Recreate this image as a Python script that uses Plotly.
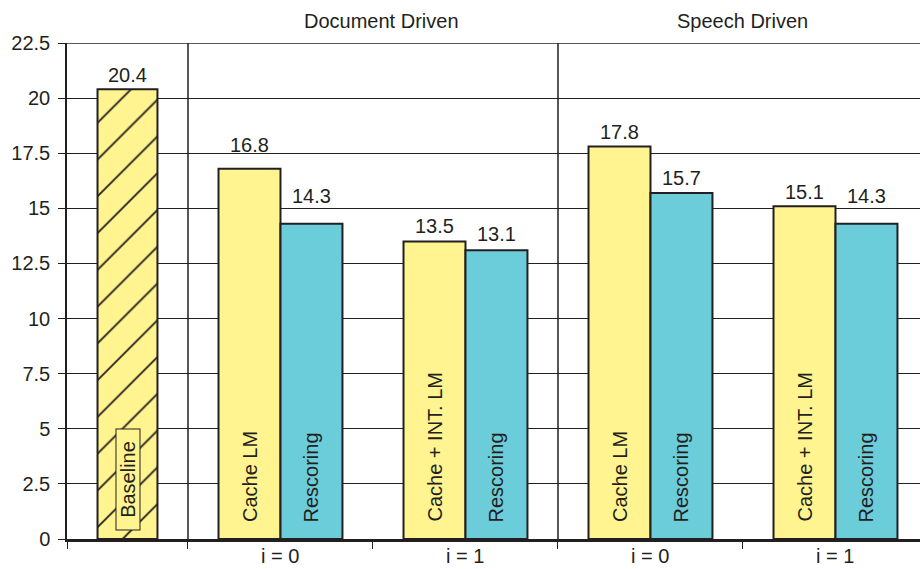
import plotly.graph_objects as go

# ---- data -------------------------------------------------------------
section_titles = ["Document Driven", "Speech Driven"]
group_labels = ["i = 0", "i = 1", "i = 0", "i = 1"]
cache_names = ["Cache LM", "Cache + INT. LM", "Cache LM", "Cache + INT. LM"]
rescore_name = "Rescoring"
baseline_name = "Baseline"
baseline_value = 20.4
cache_values = [16.8, 13.5, 17.8, 15.1]
rescoring_values = [14.3, 13.1, 15.7, 14.3]
y_ticks = [0, 2.5, 5, 7.5, 10, 12.5, 15, 17.5, 20, 22.5]
y_tick_text = ["0", "2.5", "5", "7.5", "10", "12.5", "15", "17.5", "20", "22.5"]

# ---- layout helpers ---------------------------------------------------
INK = "#231f20"
YELLOW = "#fff48f"
BLUE = "#6bccda"
FONT = "Liberation Sans, Arial, Helvetica, sans-serif"
FS = 20

base_w = 0.654            # width of the baseline slot (one group slot = 1)
bar_w = 0.335
baseline_bar_w = 0.324
group_x = [base_w + 0.5 + i for i in range(len(group_labels))]
baseline_x = base_w / 2
boundaries = [0.0] + [base_w + i for i in range(len(group_labels))]
x_max = 853 / 185

# pixel lift of each value label above its bar top
baseline_lift = 14
cache_lift = [24, 15.5, 15, 14.5]
rescore_lift = [27.5, 16, 15, 28]

fig = go.Figure()

fig.add_trace(go.Bar(
    x=[baseline_x], y=[baseline_value], width=baseline_bar_w,
    marker=dict(color=YELLOW, line=dict(color=INK, width=2),
                pattern=dict(shape="/", size=26, solidity=0.07,
                             fgcolor=INK, bgcolor=YELLOW, fillmode="replace")),
    showlegend=False, hoverinfo="skip"))

fig.add_trace(go.Bar(
    x=group_x, y=cache_values, width=bar_w, offset=-bar_w,
    marker=dict(color=YELLOW, line=dict(color=INK, width=2)),
    showlegend=False, hoverinfo="skip"))

fig.add_trace(go.Bar(
    x=group_x, y=rescoring_values, width=bar_w, offset=0,
    marker=dict(color=BLUE, line=dict(color=INK, width=2)),
    showlegend=False, hoverinfo="skip"))

ann = []
txt = dict(family=FONT, size=FS, color=INK)

# value labels
ann.append(dict(x=baseline_x, y=baseline_value, text=f"{baseline_value:.1f}",
                yshift=baseline_lift, showarrow=False, font=txt, yanchor="middle"))
for xc, v, dy in zip(group_x, cache_values, cache_lift):
    ann.append(dict(x=xc - bar_w / 2, y=v, text=f"{v:.1f}", yshift=dy,
                    showarrow=False, font=txt, yanchor="middle"))
for xc, v, dy in zip(group_x, rescoring_values, rescore_lift):
    ann.append(dict(x=xc + bar_w / 2, y=v, text=f"{v:.1f}", yshift=dy,
                    showarrow=False, font=txt, yanchor="middle"))

# rotated names inside the bars
ann.append(dict(x=baseline_x, y=0, text=baseline_name, textangle=-90,
                yanchor="bottom", yshift=9, showarrow=False, font=txt,
                bgcolor=YELLOW, bordercolor=INK, borderwidth=1, borderpad=0,
                width=100, height=23))
for xc, name in zip(group_x, cache_names):
    ann.append(dict(x=xc - bar_w / 2, y=0, text=name, textangle=-90,
                    yanchor="bottom", yshift=15, showarrow=False, font=txt))
    ann.append(dict(x=xc + bar_w / 2, y=0, text=rescore_name, textangle=-90,
                    yanchor="bottom", yshift=15, showarrow=False, font=txt))

# group labels under the axis
for xc, lab in zip(group_x, group_labels):
    ann.append(dict(x=xc, y=0, text=lab, yanchor="top", yshift=-4,
                    showarrow=False, font=txt))

# section titles above the plot
section_x = [(boundaries[1] + boundaries[3]) / 2, (boundaries[3] + x_max + 0.04) / 2]
for sx, title, dx in zip(section_x, section_titles, [9, 0]):
    ann.append(dict(x=sx, y=1, yref="paper", text=title, yanchor="bottom",
                    yshift=9, xshift=dx, showarrow=False, font=txt))

shapes = [dict(type="line", xref="x", yref="paper", x0=b, x1=b, y0=0, y1=1,
               line=dict(color=INK, width=1.5), layer="below")
          for b in (boundaries[1], boundaries[3])]
shapes.append(dict(type="line", xref="paper", yref="y", x0=0, x1=1,
                   y0=y_ticks[-1], y1=y_ticks[-1],
                   line=dict(color=INK, width=1.3), layer="below"))

fig.update_layout(
    width=920, height=569,
    margin=dict(l=67, r=0, t=43, b=30),
    paper_bgcolor="white", plot_bgcolor="white",
    barmode="overlay",
    font=dict(family=FONT, size=FS, color=INK),
    annotations=ann, shapes=shapes,
    xaxis=dict(range=[0, x_max], tickvals=boundaries,
               ticktext=[""] * len(boundaries), ticks="outside", ticklen=7,
               tickwidth=1.3, tickcolor=INK, showgrid=False, zeroline=False,
               showline=True, linecolor=INK, linewidth=2.5, fixedrange=True),
    yaxis=dict(range=[0, 22.5], tickvals=y_ticks, ticktext=y_tick_text,
               ticks="outside", ticklen=7, tickwidth=1.3, tickcolor=INK,
               showgrid=True, gridcolor=INK, gridwidth=1.3, zeroline=False,
               showline=True, linecolor=INK, linewidth=1.5,
               ticklabelstandoff=4, tickfont=dict(size=FS), fixedrange=True),
)

fig.write_html("out.html")
